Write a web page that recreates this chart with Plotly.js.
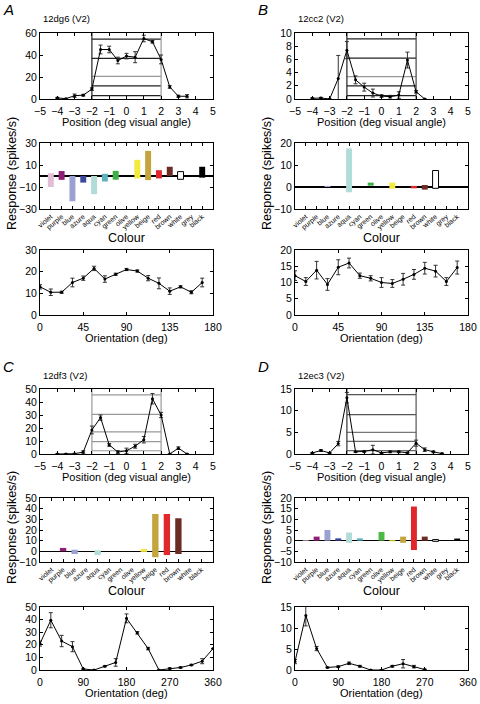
<!DOCTYPE html>
<html><head><meta charset="utf-8">
<script src="https://cdn.plot.ly/plotly-3.0.1.min.js"></script>
<style>html,body{margin:0;padding:0;background:#fff}#chart{width:480px;height:704px}</style>
</head><body><div id="chart"></div><script>
// ---------------- DATA ----------------
const cellNames = ['12dg6 (V2)', '12cc2 (V2)', '12df3 (V2)', '12ec3 (V2)'];
const panelLetters = ['A', 'B', 'C', 'D'];

// Position tuning (deg visual angle)
const posA_x = [-4,-3.5,-3,-2.5,-2,-1.5,-1,-0.5,0,0.5,1,1.5,2,2.5,3,3.5];
const posA_y = [1,0.3,3,3.5,9,45,45,35,39,38,55,52,36,11,2.5,2.5];
const posA_e = [0.5,0.3,1.5,0.8,1.2,4,3,3,2.5,5,3,1.2,4,1.2,1,1.5];
const posB_x = [-4,-3.5,-3,-2.5,-2,-1.5,-1,-0.5,0,0.5,1,1.5,2,2.5];
const posB_y = [0.1,0.15,0,3.1,7.4,2.9,1.8,0.9,0.45,0.35,0.6,5.9,1.1,0];
const posB_e = [0.1,0.1,0,3.5,1.3,0.6,0.6,0.6,0.2,0.2,0.5,1.2,0.2,0];
const posC_x = [-4,-3.5,-3,-2.5,-2,-1.5,-1,-0.5,0,0.5,1,1.5,2,2.5,3,3.5];
const posC_y = [0,0,0.2,1.5,18.5,28,7,1.5,2.5,6,11,42.5,30,0,4.5,0];
const posC_e = [0.2,0.2,0.3,1,3,2,1,1,2,1.5,2.5,4,2,0,1,0];
const posD_x = [-4,-3.5,-3,-2.5,-2,-1.5,-1,-0.5,0,0.5,1,1.5,2,2.5,3,3.5];
const posD_y = [0.25,0.8,0.25,2.4,13,0.5,0.6,1,0.25,0.5,0.5,0.3,2.5,1,0.5,0.1];
const posD_e = [0.1,0.2,0.1,0.5,1.2,0.1,0.2,1,0.1,0.2,0.2,0.1,0.7,0.4,0.2,0.1];

// Stimulus box (edges) and bar levels drawn inside the position plots
const boxEdges = [-2, 2];
const boxLevelsA = [54.5, 37, 20.5, 12, 3];
const boxLevelsB = [9.1, 6.2, 3.4, 2.0, 0.5];
const boxLevelsC = [45.5, 30.5, 17, 9.5, 2.5];
const boxLevelsD = [13.7, 9.1, 5, 2.9, 0.8];

// Colour tuning
const colourCats = ['violet','purple','blue','azure','aqua','cyan','green','olive','yellow','beige','red','brown','white','grey','black'];
const colourCatsC = ['violet','purple','blue','azure','aqua','cyan','green','olive','yellow','beige','red','brown','white','black'];
const colA_lo = [-10,-3.5,-23,-6,-16.5,-5,-3.4,null,-2.2,-3.75,-2.2,0,-3,null,-1.5];
const colA_hi = [2.5,4.5,0,0,0,2,4.7,null,14.7,22.8,5.3,8.4,4,null,8.4];
const colB_lo = [null,null,0,null,-2.4,null,0.6,null,-0.8,null,-0.6,-1.2,-0.6,null,null];
const colB_hi = [null,null,0.5,null,17.5,null,2,null,2,null,0.5,0.9,7.5,null,null];
const colC_lo = [null,0,-2.5,null,-3.5,null,null,null,-0.5,-5.5,-3.5,-2.5,null,null];
const colC_hi = [null,3.2,1.5,null,1,null,null,null,2.2,35,35,31,null,null];
const colD_lo = [0,0,0,0,-1,0,null,0,-0.3,-1,-4.4,0,-0.3,null,0];
const colD_hi = [0.3,1.9,5,1.1,3.8,1.1,null,4.1,0.2,1.9,16,1.9,0.5,null,1];

// Orientation tuning (deg)
const oriAB_x = [0,11.25,22.5,33.75,45,56.25,67.5,78.75,90,101.25,112.5,123.75,135,146.25,157.5,168.75];
const oriA_y = [13,10.5,10.5,15,17,21.5,16.6,18.8,21,20.3,17,14.6,11,13,10.5,15];
const oriA_e = [1,1.5,0.5,2,1,1,1.5,0.5,0.5,0.5,1.2,2.5,1.5,0.5,0.7,2];
const oriB_y = [12.1,10.3,13.8,9.4,14.7,16,12.1,11.3,10,9.7,11,12.5,14.4,13.5,10.3,14.6];
const oriB_e = [1.5,1.2,2.7,1.8,2.3,1.5,0.8,0.8,1.5,1.2,1.8,1.5,1.8,1.8,1.2,2];
const oriC_x = [0,22.5,45,67.5,90,112.5,135,157.5,180,202.5,225,247.5,270,292.5,315,337.5,360];
const oriC_y = [21,39.5,23,18.5,0.8,0,3,6,41,29.5,17,0,1.2,2,4,7,17];
const oriC_e = [2,6,4.5,4,0.5,0,0.5,3,3.5,1,1,0,0.5,0.5,0.5,2,0];
const oriD_x = [0,22.5,45,67.5,90,112.5,135,157.5,180,202.5,225,247.5,270];
const oriD_y = [2,13,5.1,0.6,0.8,1.6,0.9,0,0,0.9,1.5,0.8,0.1];
const oriD_e = [0.5,2.5,0.5,0.1,0.2,0.3,0.2,0,0,0.2,1,0.3,0.1];

// ---------------- STYLE ----------------
const catColour = {violet:'#e2bdd6', purple:'#8e1f74', blue:'#9aa0d2', azure:'#3b4a9c', aqua:'#b2dcd8',
  cyan:'#5fb3bd', green:'#3fae48', olive:'#4cb848', yellow:'#f2ea3c', beige:'#c4a43c', red:'#e0282c',
  brown:'#6a2c24', white:'#ffffff', grey:'#888888', black:'#000000'};
const DK = '#222', LT = '#999';
const boxStyles = [
  {edges:[DK, LT], levels:[DK, DK, LT, DK, DK]},
  {edges:[DK, '#444'], levels:[DK, DK, LT, DK, DK]},
  {edges:[LT, LT], levels:[LT, LT, LT, LT, LT]},
  {edges:['#333', '#555'], levels:['#555', '#555', '#777', '#666', '#666']}
];

const W = 480, H = 704;
const fx = p => p / W, fy = p => 1 - p / H;
const FONT = 'Liberation Sans, Arial, Helvetica, sans-serif';
const traces = [];
const layout = {width:W, height:H, margin:{l:0,r:0,t:0,b:0}, showlegend:false,
  paper_bgcolor:'#fff', plot_bgcolor:'#fff', font:{family:FONT, color:'#000', size:11}, annotations:[]};

function ax(k){ return k===1 ? '' : String(k); }
function baseAxis(dom, range, extra){
  return Object.assign({domain:dom, range:range, showline:true, mirror:'ticks', linecolor:'#000', linewidth:1,
    ticks:'inside', ticklen:3, tickcolor:'#000', tickwidth:1, showgrid:false, zeroline:false,
    tickfont:{size:10.5, family:FONT}, fixedrange:true}, extra||{});
}
function setAxes(k, xd, yd, xr, yr, xextra, yextra){
  layout['xaxis'+ax(k)] = baseAxis([fx(xd[0]), fx(xd[1])], xr, Object.assign({anchor:'y'+ax(k)}, xextra));
  layout['yaxis'+ax(k)] = baseAxis([fy(yd[1]), fy(yd[0])], yr, Object.assign({anchor:'x'+ax(k)}, yextra));
}
function lineTrace(k, x, y, e){
  traces.push({type:'scatter', mode:'lines+markers', x:x, y:y, xaxis:'x'+ax(k), yaxis:'y'+ax(k),
    line:{color:'#000', width:1}, marker:{color:'#000', size:3},
    error_y:{type:'data', array:e, visible:true, color:'#333', thickness:1, width:2}, hoverinfo:'skip'});
}
function seg(k, xs, ys, colour){
  traces.push({type:'scatter', mode:'lines', x:xs, y:ys, xaxis:'x'+ax(k), yaxis:'y'+ax(k),
    line:{color:colour, width:1.2}, hoverinfo:'skip'});
}
function boxTraces(k, levels, ymax, st){
  levels.forEach((l,j)=> seg(k, [boxEdges[0], boxEdges[1]], [l, l], st.levels[j]));
  boxEdges.forEach((b,j)=> seg(k, [b, b], [0, ymax], st.edges[j]));
}
function barTrace(k, cats, lo, hi){
  const xs=[], base=[], len=[], col=[], lc=[], lw=[];
  cats.forEach((c,i)=>{
    if(lo[i]===null) return;
    xs.push(i+1); base.push(lo[i]); len.push(hi[i]-lo[i]);
    col.push(catColour[c]); lc.push(c==='white' ? '#000' : catColour[c]); lw.push(c==='white' ? 1 : 0);
  });
  traces.push({type:'bar', x:xs, y:len, base:base, width:0.55, xaxis:'x'+ax(k), yaxis:'y'+ax(k),
    marker:{color:col, line:{color:lc, width:lw}}, hoverinfo:'skip'});
}
function ann(text, x, y, size, extra){
  layout.annotations.push(Object.assign({text:text, x:fx(x), y:fy(y), xref:'paper', yref:'paper',
    showarrow:false, font:{size:size, family:FONT, color:'#000'}, xanchor:'center', yanchor:'middle'}, extra||{}));
}

// ---------------- PANELS ----------------
const colX = [[40,213],[295,468]];
const rowsTop = {pos:[33,99], col:[143,209], ori:[250,315]};
const rowsBot = {pos:[389,454], col:[498,562], ori:[607,670]};

const panels = [
  {xd:colX[0], rows:rowsTop, px:posA_x, py:posA_y, pe:posA_e, pyr:[0,60], pdt:20, levels:boxLevelsA,
   cats:colourCats, lo:colA_lo, hi:colA_hi, cyr:[-30,30], cdt:20, ct0:10,
   ox:oriAB_x, oy:oriA_y, oe:oriA_e, oxr:[0,180], oxdt:45, oyr:[0,30], oydt:10},
  {xd:colX[1], rows:rowsTop, px:posB_x, py:posB_y, pe:posB_e, pyr:[0,10], pdt:2, levels:boxLevelsB,
   cats:colourCats, lo:colB_lo, hi:colB_hi, cyr:[-10,20], cdt:10, ct0:0,
   ox:oriAB_x, oy:oriB_y, oe:oriB_e, oxr:[0,180], oxdt:45, oyr:[0,20], oydt:5},
  {xd:colX[0], rows:rowsBot, px:posC_x, py:posC_y, pe:posC_e, pyr:[0,50], pdt:10, levels:boxLevelsC,
   cats:colourCatsC, lo:colC_lo, hi:colC_hi, cyr:[-10,50], cdt:10, ct0:0,
   ox:oriC_x, oy:oriC_y, oe:oriC_e, oxr:[0,360], oxdt:90, oyr:[0,50], oydt:10},
  {xd:colX[1], rows:rowsBot, px:posD_x, py:posD_y, pe:posD_e, pyr:[0,15], pdt:5, levels:boxLevelsD,
   cats:colourCats, lo:colD_lo, hi:colD_hi, cyr:[-10,20], cdt:5, ct0:0,
   ox:oriD_x, oy:oriD_y, oe:oriD_e, oxr:[0,360], oxdt:90, oyr:[0,15], oydt:5}
];

panels.forEach((p, i)=>{
  const k0 = i*3 + 1;
  const cx = (p.xd[0]+p.xd[1])/2;
  // position
  setAxes(k0, p.xd, p.rows.pos, [-5,5], p.pyr, {dtick:1, tick0:0, ticklabelstandoff:2}, {dtick:p.pdt, tick0:0});
  boxTraces(k0, p.levels, p.pyr[1], boxStyles[i]);
  lineTrace(k0, p.px, p.py, p.pe);
  // colour
  const nc = p.cats.length;
  setAxes(k0+1, p.xd, p.rows.col, [0, nc+1],
    p.cyr, {tickvals:p.cats.map((c,j)=>j+1), ticktext:p.cats, tickangle:-40, tickfont:{size:7, family:FONT}},
    {dtick:p.cdt, tick0:p.ct0, zeroline:true, zerolinecolor:'#000', zerolinewidth:1.5, layer:'above traces'});
  barTrace(k0+1, p.cats, p.lo, p.hi);
  // orientation
  setAxes(k0+2, p.xd, p.rows.ori, p.oxr, p.oyr, {dtick:p.oxdt, tick0:0, ticklabelstandoff:2}, {dtick:p.oydt, tick0:0});
  lineTrace(k0+2, p.ox, p.oy, p.oe);

  // annotations
  ann('<i>'+panelLetters[i]+'</i>', p.xd[0]-32, p.rows.pos[0]-23, 15);
  ann(cellNames[i], p.xd[0]+1, p.rows.pos[0]-14, 9.5, {xanchor:'left'});
  ann('Position (deg visual angle)', cx, p.rows.pos[1]+23, 11);
  ann('Response (spikes/s)', p.xd[0]-28, (p.rows.col[0]+p.rows.col[1])/2 - 2, 12.5, {textangle:-90});
  ann('Colour', cx, p.rows.col[1]+29, 12.5);
  ann('Orientation (deg)', cx, p.rows.ori[1]+23, 11);
});

Plotly.newPlot('chart', traces, layout, {staticPlot:true, displayModeBar:false});
</script></body></html>
